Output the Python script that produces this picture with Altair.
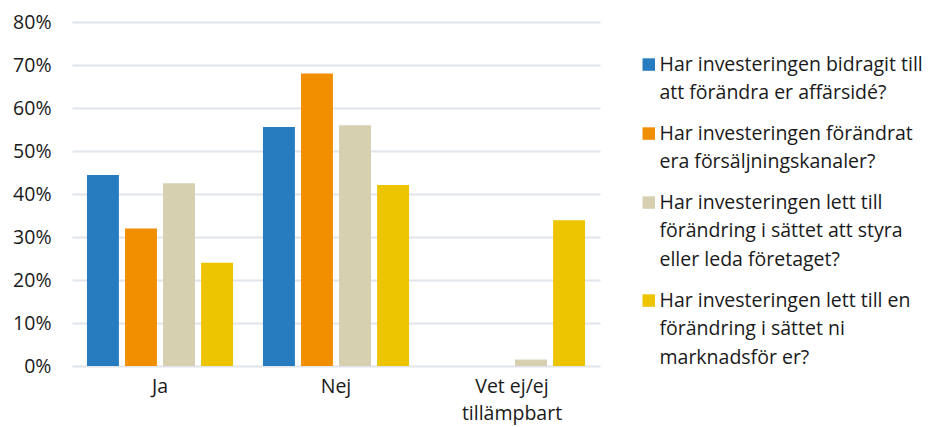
import altair as alt
import pandas as pd

categories = ["Ja", "Nej", "Vet ej/ej tillämpbart"]
questions = [
    "Har investeringen bidragit till att förändra er affärsidé?",
    "Har investeringen förändrat era försäljningskanaler?",
    "Har investeringen lett till förändring i sättet att styra eller leda företaget?",
    "Har investeringen lett till en förändring i sättet ni marknadsför er?",
]
legend_lines = [
    "Har investeringen bidragit till|att förändra er affärsidé?",
    "Har investeringen förändrat|era försäljningskanaler?",
    "Har investeringen lett till|förändring i sättet att styra|eller leda företaget?",
    "Har investeringen lett till en|förändring i sättet ni|marknadsför er?",
]
q1 = [44.4, 55.6, 0.0]
q2 = [32.0, 68.0, 0.0]
q3 = [42.5, 56.0, 1.5]
q4 = [24.0, 42.1, 33.9]
colors = ["#277CBF", "#F28F00", "#D6D0B1", "#ECC500"]
y_ticks = [0, 0.1, 0.2, 0.3, 0.4, 0.5, 0.6, 0.7, 0.8]

rows = []
for qi, (q, vals) in enumerate(zip(questions, [q1, q2, q3, q4])):
    for c, v in zip(categories, vals):
        rows.append({"kategori": c, "fraga": q, "varde": v / 100.0})
df = pd.DataFrame(rows)

label_map = "{" + ",".join(
    f"'{q}': split('{l}', '|')" for q, l in zip(questions, legend_lines)
) + "}"

FONT = "Open Sans"
TXT = "#1a1a1a"
FS = 19.5

chart = alt.Chart(df).mark_bar().encode(
    x=alt.X(
        "kategori:N",
        sort=categories,
        title=None,
        scale=alt.Scale(paddingInner=0.17, paddingOuter=0.085),
        axis=alt.Axis(
            labelAngle=0,
            ticks=False,
            domain=False,
            labelPadding=11,
            labelFontSize=FS,
            labelLineHeight=27,
            labelColor=TXT,
            labelFont=FONT,
            labelExpr="split(replace(datum.label, 'ej/ej ', 'ej/ej|'), '|')",
        ),
    ),
    xOffset=alt.XOffset("fraga:N", sort=questions, scale=alt.Scale(paddingInner=0.16)),
    y=alt.Y(
        "varde:Q",
        title=None,
        scale=alt.Scale(domain=[0, 0.8], nice=False),
        axis=alt.Axis(
            values=y_ticks,
            format=".0%",
            ticks=False,
            domain=False,
            labelPadding=21,
            labelFontSize=FS,
            labelColor=TXT,
            labelFont=FONT,
            gridColor="#e0e4eb",
            gridWidth=2,
        ),
    ),
    color=alt.Color(
        "fraga:N",
        sort=questions,
        scale=alt.Scale(domain=questions, range=colors),
        legend=alt.Legend(
            title=None,
            orient="none",
            legendX=567,
            legendY=24,
            symbolType="M-1,0.41H1V2.41H-1Z",
            symbolSize=156,
            symbolStrokeWidth=0,
            labelOffset=1,
            labelBaseline="top",
            labelFontSize=FS,
            labelLimit=320,
            labelColor=TXT,
            labelFont=FONT,
            rowPadding=12,
            labelExpr=label_map + "[datum.label]",
        ),
    ),
).properties(
    width=528,
    height=344,
    autosize=alt.AutoSizeParams(type="none"),
    padding={"left": 72, "top": 22, "right": 333, "bottom": 61},
).configure(
    font=FONT,
    style={"guide-label": {"lineHeight": 28.5}},
    view=alt.ViewConfig(stroke="transparent"),
)

chart.save("out.html", embed_options={"renderer": "svg", "actions": False})
